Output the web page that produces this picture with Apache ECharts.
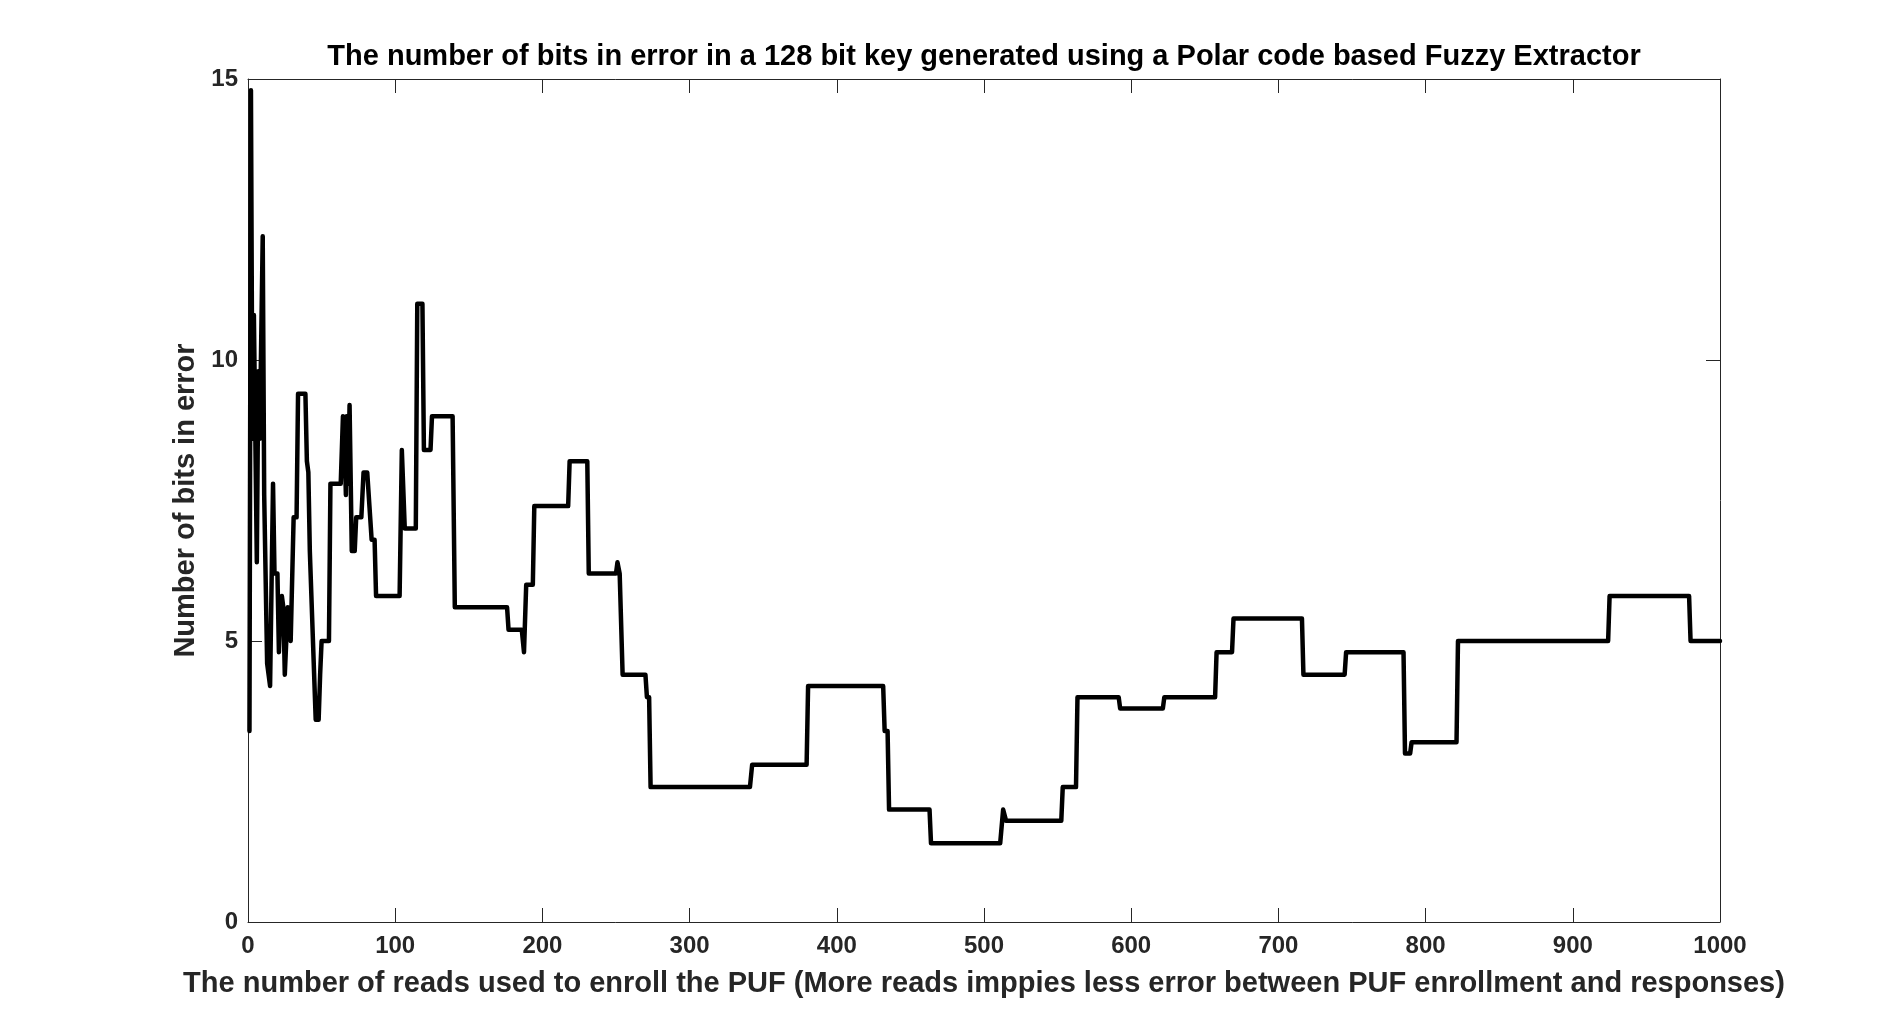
<!DOCTYPE html>
<html>
<head>
<meta charset="utf-8">
<script src="https://cdn.jsdelivr.net/npm/echarts@6/dist/echarts.min.js"></script>
<style>
  html, body { margin: 0; padding: 0; background: #fff; }
  #main { width: 1900px; height: 1036px; }
</style>
</head>
<body>
<div id="main"></div>
<script>
// reads used for enrollment (x) and bits in error (y)
var reads = [1, 2, 3, 4, 5, 6, 7, 8, 10, 11, 12, 13, 14, 15, 17, 18, 20, 21, 22, 23, 24, 25, 26, 27, 28, 29, 30, 31, 33, 34, 39, 40, 41, 42, 43, 46, 48, 49, 50, 55,
  56, 63, 64.5, 65.5, 66.5, 67, 68, 69, 70.5, 72.5, 73.5, 77, 78.5, 81, 82.5, 84, 86, 87, 103, 104.5, 106.5, 114, 115, 118.5, 119.5, 124, 125, 139, 140.5, 176,
  177, 186, 187.5, 189, 193.5, 194.5, 217.5, 218.5, 230.5, 231.5, 250, 251, 252.5, 254.5, 270, 271, 272.5, 273.5, 341, 342.5, 379.5, 380.5, 431.5, 432.5, 434.5, 435.5,
  463, 464, 511, 513, 515, 552.5, 553.5, 562.5, 563.5, 591.5, 592.5, 621.5, 622.5, 657, 658, 668.5, 669.5, 716, 717, 745, 746, 785, 786, 789.5, 790.5, 821, 822,
  924, 925, 979, 980, 1000];
var bitErrors = [3.4, 14.8, 8.6, 10.8, 10.8, 6.4, 9.8, 8.6, 12.2, 7.6, 7.6, 4.6, 4.4, 4.2, 7.8, 6.2, 6.2, 4.8, 5.6, 5.8, 5.6, 4.4, 4.4, 5.6, 5.6, 5.0, 5.0, 7.2, 7.2, 9.4, 9.4, 8.2, 8.0, 6.6, 6.6, 3.6, 3.6, 4.4, 5.0, 5.0,
  7.8, 7.8, 9.0, 8.6, 7.6, 9.0, 7.8, 9.2, 6.6, 6.6, 7.2, 7.2, 8.0, 8.0, 7.4, 6.8, 6.8, 5.8, 5.8, 8.4, 7.0, 7.0, 11.0, 11.0, 8.4, 8.4, 9.0, 9.0, 5.6, 5.6,
  5.2, 5.2, 4.8, 6.0, 6.0, 7.4, 7.4, 8.2, 8.2, 6.2, 6.2, 6.4, 6.2, 4.4, 4.4, 4.0, 4.0, 2.4, 2.4, 2.8, 2.8, 4.2, 4.2, 3.4, 3.4, 2.0,
  2.0, 1.4, 1.4, 2.0, 1.8, 1.8, 2.4, 2.4, 4.0, 4.0, 3.8, 3.8, 4.0, 4.0, 4.8, 4.8, 5.4, 5.4, 4.4, 4.4, 4.8, 4.8, 3.0, 3.0, 3.2, 3.2, 5.0,
  5.0, 5.8, 5.8, 5.0, 5.0];

var axisColor = '#262626';
var fontFamily = '"Liberation Sans", Arial, sans-serif';

var points = [];
for (var i = 0; i < reads.length; i++) {
    points.push([reads[i], bitErrors[i]]);
}

var myChart = echarts.init(document.getElementById('main'), null, { renderer: 'canvas' });

function boxAxis(extra) {
    var base = {
        type: 'value',
        axisLine: { show: true, onZero: false, lineStyle: { color: axisColor, width: 1 } },
        axisTick: { show: true, inside: true, length: 14, lineStyle: { color: axisColor, width: 1 } },
        splitLine: { show: false },
        nameTextStyle: {
            color: axisColor,
            fontFamily: fontFamily,
            fontWeight: 'bold',
            fontSize: 29
        }
    };
    return Object.assign(base, extra);
}

function tickLabel(margin) {
    return {
        color: axisColor,
        fontFamily: fontFamily,
        fontWeight: 'bold',
        fontSize: 24,
        margin: margin,
        formatter: function (v) { return String(v); }
    };
}

var option = {
    backgroundColor: '#fff',
    animation: false,
    title: {
        text: 'The number of bits in error in a 128 bit key generated using a Polar code based Fuzzy Extractor',
        left: 979,
        top: 37,
        textAlign: 'center',
        textStyle: {
            color: '#000',
            fontFamily: fontFamily,
            fontWeight: 'bold',
            fontSize: 29
        }
    },
    grid: { left: 248, right: 180, top: 79, bottom: 114 },
    xAxis: [
        boxAxis({
            min: 0, max: 1000, interval: 100,
            position: 'bottom',
            name: 'The number of reads used to enroll the PUF (More reads imppies less error between PUF enrollment and responses)',
            nameLocation: 'middle',
            nameGap: 47,
            axisLabel: tickLabel(12)
        }),
        boxAxis({
            min: 0, max: 1000, interval: 100,
            position: 'top',
            axisLabel: { show: false }
        })
    ],
    yAxis: [
        boxAxis({
            min: 0, max: 15, interval: 5,
            position: 'left',
            name: 'Number of bits in error',
            nameLocation: 'middle',
            nameGap: 46,
            axisLabel: tickLabel(10)
        }),
        boxAxis({
            min: 0, max: 15, interval: 5,
            position: 'right',
            axisLabel: { show: false }
        })
    ],
    series: [
        {
            type: 'line',
            data: points,
            showSymbol: false,
            symbol: 'none',
            lineStyle: { color: '#000', width: 4.5, join: 'round', cap: 'round' },
            silent: true
        }
    ]
};

myChart.setOption(option);
</script>
</body>
</html>
